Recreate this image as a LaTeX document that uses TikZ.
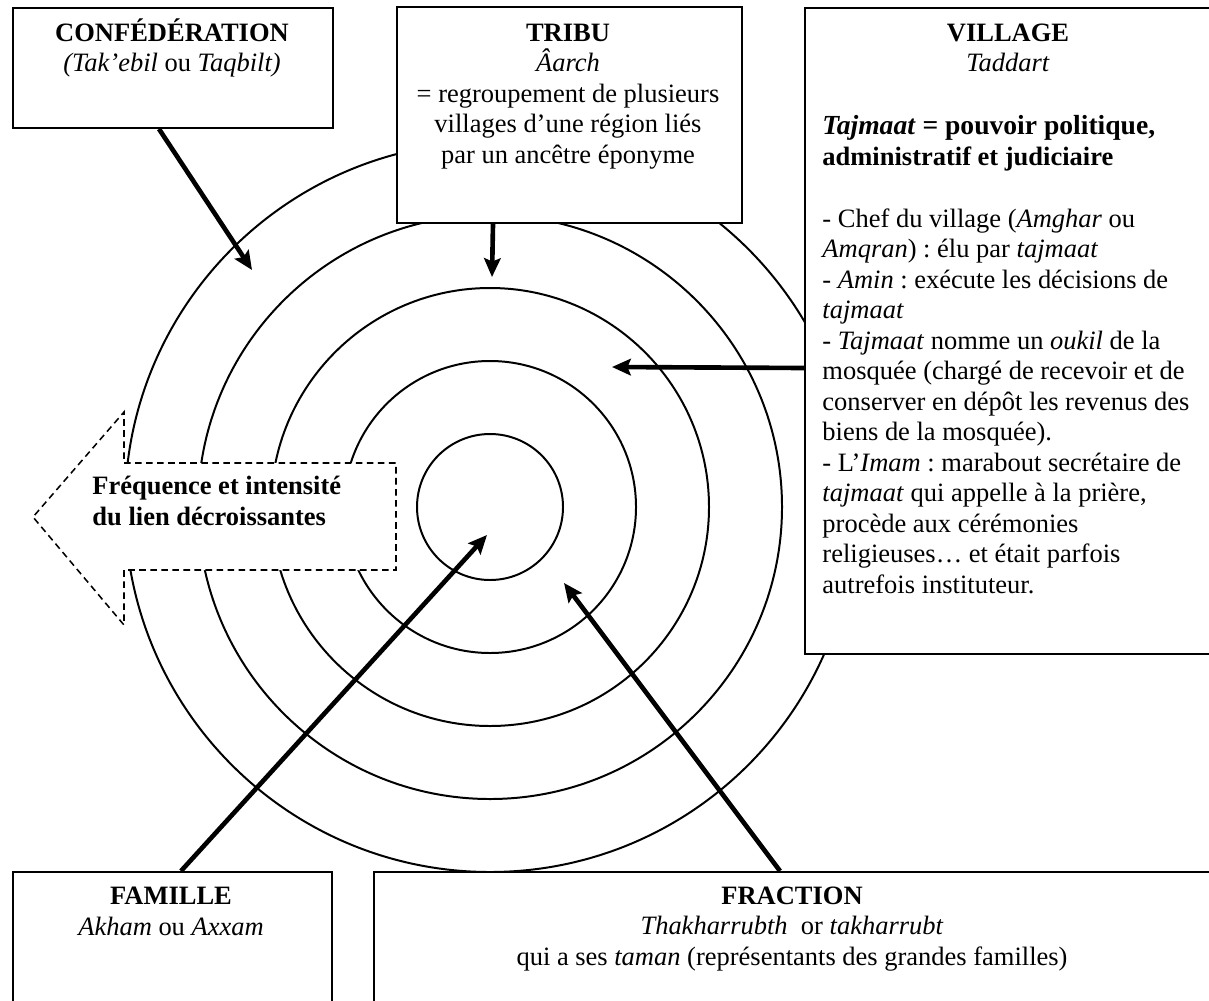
\documentclass[tikz,border=0pt]{standalone}
\usepackage{fontspec}
\setmainfont{Liberation Serif}
\usetikzlibrary{arrows.meta}
\frenchspacing
\newlength{\unitpx}
\setlength{\unitpx}{0.453pt}
\tikzset{
  box/.style={draw, line width=0.9pt, fill=white, inner sep=0, anchor=north west},
  txt/.style={inner sep=0, font=\fontsize{12}{13.8}\selectfont},
  ring/.style={line width=0.9pt},
  arr/.style={line width=2.1pt, -{Stealth[length=8.5pt,width=7.5pt,inset=1.5pt]}},
  hint/.style={line width=0.7pt, dash pattern=on 3pt off 2pt, fill=white},
}
\begin{document}
\begin{tikzpicture}[x=0.453pt, y=-0.453pt]
            \useasboundingbox (0,0) rectangle (1209,1000);
            \coordinate (c) at (490,507);
            \foreach \r in {73,146,219,292,365}
              \draw [ring] (c) circle [radius=\r];
            \draw [hint] (124,463) -- (396,463) -- (396,570) -- (124,570) -- (124,625) -- (33,517) -- (124,412) -- cycle;
            \node [txt, anchor=base west, align=left, font=\fontsize{12}{13.8}\selectfont\bfseries] (freq) at (92,525) {Fréquence et intensité\\du lien décroissantes};
            \node [box, minimum width=320*\unitpx, minimum height=120*\unitpx] (conf) at (12,7) {};
            \node [box, minimum width=345*\unitpx, minimum height=216*\unitpx] (tribu) at (396,6) {};
            \node [box, minimum width=408*\unitpx, minimum height=646*\unitpx] (village) at (804,7) {};
            \node [box, minimum width=319*\unitpx, minimum height=140*\unitpx] (famille) at (12,871) {};
            \node [box, minimum width=838*\unitpx, minimum height=140*\unitpx] (fraction) at (373,871) {};
            \node [txt, anchor=base, align=center] (conflbl) at (172,72) {\textbf{CONFÉDÉRATION}\\\textit{(Tak’ebil} ou \textit{Taqbilt)}};
            \node [txt, anchor=base, align=center] (tribulbl) at (568,163) {\textbf{TRIBU}\\\textit{Âarch}\\= regroupement de plusieurs\\villages d’une région liés\\par un ancêtre éponyme};
            \node [txt, anchor=base, align=center] (villagelbl) at (1008,72) {\textbf{VILLAGE}\\\textit{Taddart}};
            \node [txt, anchor=base west, align=left] (villagetxt) at (822,593) {{\fontsize{12.5}{13.8}\selectfont\bfseries\textit{Tajmaat} = pouvoir politique,}\\
              \textbf{administratif et judiciaire}\\[14.3pt]
              - Chef du village (\textit{Amghar} ou\\
              \textit{Amqran}) : élu par \textit{tajmaat}\\
              - \textit{Amin} : exécute les décisions de\\
              \textit{tajmaat}\\
              - \textit{Tajmaat} nomme un \textit{oukil} de la\\
              mosquée (chargé de recevoir et de\\
              conserver en dépôt les revenus des\\
              biens de la mosquée).\\
              - L’\textit{Imam} : marabout secrétaire de\\
              \textit{tajmaat} qui appelle à la prière,\\
              procède aux cérémonies\\
              religieuses… et était parfois\\
              autrefois instituteur.};
            \node [txt, anchor=base, align=center] (famillelbl) at (171,935) {\textbf{FAMILLE}\\\textit{Akham} ou \textit{Axxam}};
            \node [txt, anchor=base, align=center] (fractionlbl) at (792,965) {\textbf{FRACTION}\\\textit{Thakharrubth}\ \ or \textit{takharrubt}\\qui a ses \textit{taman} (représentants des grandes familles)};
            \coordinate (conftip) at (252,270);
            \coordinate (tributip) at (492,277);
            \coordinate (villagetip) at (612,367);
            \coordinate (familletip) at (487,535);
            \coordinate (fractiontip) at (564,583);
            \draw [arr] (conf.south) ++(-14,0) -- (conftip);
            \draw [arr] (tribu.south) ++(-76.5,0) -- (tributip);
            \draw [arr] (village.west) ++(0,37) -- (villagetip);
            \draw [arr] (famille.north) ++(8.5,0) -- (familletip);
            \draw [arr] (fraction.north) ++(-13,0) -- (fractiontip);
        \end{tikzpicture}
\end{document}
